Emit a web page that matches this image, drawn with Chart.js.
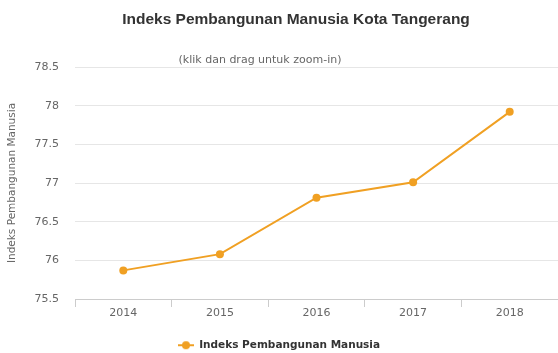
<!DOCTYPE html>
<html>
<head>
<meta charset="utf-8">
<script src="https://cdn.jsdelivr.net/npm/chart.js@4/dist/chart.umd.min.js"></script>
<style>
  html, body { margin: 0; padding: 0; background: #fff; }
  #wrap { width: 558px; height: 353px; position: relative; }
</style>
</head>
<body>
<div id="wrap"><canvas id="ipm"></canvas></div>
<script>
// data
const years = ["2014", "2015", "2016", "2017", "2018"];
const ipmValues = [75.87, 76.08, 76.81, 77.01, 77.92];
const yTicks = [75.5, 76, 76.5, 77, 77.5, 78, 78.5];

const chartTitle = "Indeks Pembangunan Manusia Kota Tangerang";
const chartSubtitle = "(klik dan drag untuk zoom-in)";
const seriesName = "Indeks Pembangunan Manusia";

const ORANGE = "#f0a023";
const FONT = "'DejaVu Sans', sans-serif";

// legend symbol: short line with a dot, like the original
function legendSymbol() {
    const c = document.createElement("canvas");
    c.width = 16;
    c.height = 10;
    const g = c.getContext("2d");
    g.strokeStyle = ORANGE;
    g.lineWidth = 2;
    g.beginPath();
    g.moveTo(0, 5);
    g.lineTo(16, 5);
    g.stroke();
    g.fillStyle = ORANGE;
    g.beginPath();
    g.arc(8, 5, 4, 0, Math.PI * 2);
    g.fill();
    return c;
}

// title + subtitle are placed off-centre in the original, so draw them by hand
const headerText = {
    id: "headerText",
    afterDraw(chart) {
        const ctx = chart.ctx;
        ctx.save();
        ctx.textAlign = "center";
        ctx.textBaseline = "middle";
        ctx.fillStyle = "#333333";
        ctx.font = "bold 15.5px 'Liberation Sans', sans-serif";
        ctx.fillText(chartTitle, 296, 20);
        ctx.fillStyle = "#666666";
        ctx.font = "11px " + FONT;
        ctx.fillText(chartSubtitle, 260, 60);
        ctx.restore();
    }
};

const symbol = legendSymbol();

new Chart(document.getElementById("ipm"), {
    type: "line",
    data: {
        labels: years,
        datasets: [{
            label: seriesName,
            data: ipmValues,
            borderColor: ORANGE,
            backgroundColor: ORANGE,
            borderWidth: 2,
            tension: 0,
            pointRadius: 4,
            pointBorderWidth: 0,
            pointBackgroundColor: ORANGE,
            pointStyle: "circle",
        }]
    },
    options: {
        responsive: true,
        maintainAspectRatio: false,
        animation: false,
        layout: {
            autoPadding: false,
            padding: { top: 67, right: 0, bottom: 0, left: 0 }
        },
        scales: {
            x: {
                type: "category",
                offset: true,
                grid: {
                    offset: true,
                    drawOnChartArea: false,
                    drawTicks: true,
                    tickLength: 8,
                    color: "#cccccc",
                },
                border: { display: true, color: "#cccccc" },
                ticks: {
                    color: "#666666",
                    font: { family: FONT, size: 11 },
                    padding: 0,
                    maxRotation: 0,
                },
                afterFit(scale) { scale.height = 28; },
            },
            y: {
                min: yTicks[0],
                max: yTicks[yTicks.length - 1],
                afterBuildTicks(scale) {
                    scale.ticks = yTicks.map(v => ({ value: v }));
                },
                grid: {
                    color: "#e6e6e6",
                    drawTicks: false,
                },
                border: { display: false },
                ticks: {
                    color: "#666666",
                    font: { family: FONT, size: 11 },
                    padding: 16,
                    callback: v => String(v),
                },
                title: {
                    display: true,
                    text: seriesName,
                    color: "#666666",
                    font: { family: FONT, size: 10.5 },
                    padding: { top: 6, bottom: 0 },
                },
                afterFit(scale) { scale.width = 75; },
            }
        },
        plugins: {
            title: { display: false },
            tooltip: { enabled: false },
            legend: {
                position: "bottom",
                maxHeight: 26,
                labels: {
                    usePointStyle: true,
                    pointStyleWidth: 16,
                    padding: 13,
                    color: "#333333",
                    font: { family: FONT, size: 10.5, weight: "bold" },
                    generateLabels(chart) {
                        return chart.data.datasets.map((ds, i) => ({
                            text: ds.label,
                            fillStyle: ORANGE,
                            strokeStyle: ORANGE,
                            lineWidth: 0,
                            pointStyle: symbol,
                            fontColor: "#333333",
                            hidden: false,
                            datasetIndex: i,
                        }));
                    }
                }
            }
        }
    },
    plugins: [headerText]
});
</script>
</body>
</html>
